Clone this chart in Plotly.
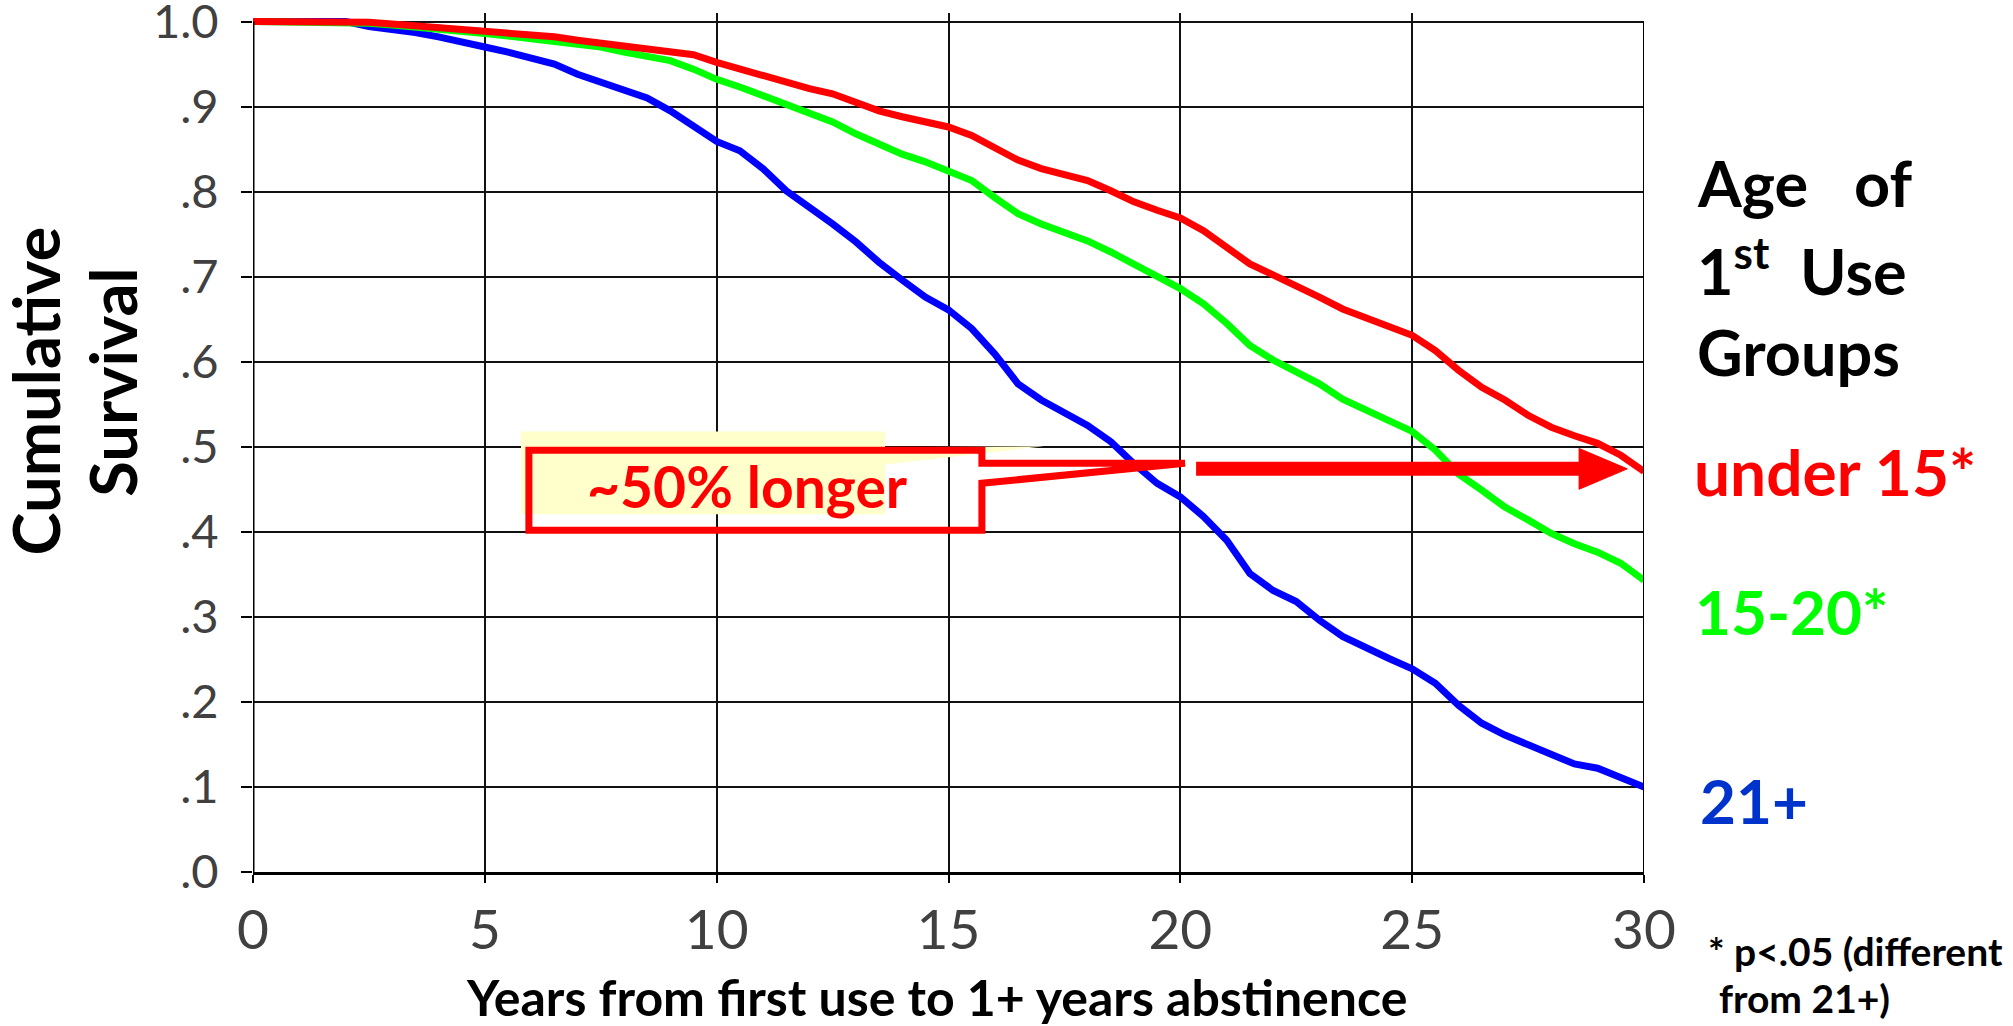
import plotly.graph_objects as go

# Follow-up time (years since first use), half-year grid
years = [i / 2 for i in range(61)]

# Cumulative survival (proportion not yet reaching 1+ years abstinence)
surv_under15 = [
    1.000, 1.000, 1.000, 1.000, 1.000, 0.999, 0.997, 0.995, 0.994, 0.992,
    0.990, 0.988, 0.985, 0.982, 0.978, 0.975, 0.972, 0.969, 0.965, 0.961,
    0.952, 0.944, 0.937, 0.929, 0.921, 0.915, 0.905, 0.895, 0.888, 0.881,
    0.876, 0.866, 0.852, 0.837, 0.827, 0.821, 0.813, 0.801, 0.788, 0.778,
    0.769, 0.754, 0.735, 0.715, 0.702, 0.690, 0.676, 0.662, 0.652, 0.641,
    0.631, 0.613, 0.590, 0.570, 0.555, 0.537, 0.523, 0.513, 0.504, 0.490,
    0.471,
]
surv_15_20 = [
    1.000, 1.000, 1.000, 1.000, 1.000, 0.998, 0.996, 0.994, 0.991, 0.989,
    0.986, 0.983, 0.980, 0.977, 0.974, 0.970, 0.964, 0.959, 0.954, 0.944,
    0.932, 0.923, 0.913, 0.901, 0.891, 0.882, 0.868, 0.856, 0.844, 0.835,
    0.825, 0.813, 0.793, 0.774, 0.762, 0.752, 0.742, 0.729, 0.715, 0.699,
    0.686, 0.668, 0.645, 0.619, 0.602, 0.588, 0.574, 0.556, 0.543, 0.529,
    0.518, 0.496, 0.468, 0.449, 0.429, 0.414, 0.398, 0.386, 0.376, 0.363,
    0.343,
]
surv_21plus = [
    1.000, 1.000, 1.000, 1.000, 1.000, 0.994, 0.991, 0.987, 0.982, 0.975,
    0.970, 0.964, 0.958, 0.950, 0.938, 0.929, 0.921, 0.910, 0.895, 0.876,
    0.859, 0.848, 0.827, 0.801, 0.782, 0.762, 0.741, 0.717, 0.696, 0.676,
    0.661, 0.639, 0.609, 0.574, 0.555, 0.541, 0.525, 0.506, 0.480, 0.457,
    0.441, 0.418, 0.390, 0.351, 0.331, 0.318, 0.296, 0.277, 0.263, 0.251,
    0.239, 0.222, 0.196, 0.175, 0.161, 0.149, 0.137, 0.127, 0.122, 0.112,
    0.100,
]

group_names = ["21+", "15-20*", "under 15*"]
group_colors = ["#0000FF", "#00FF00", "#FF0000"]
label_colors = ["#0033CC", "#00FF00", "#FF0000"]

x_ticks = [0, 5, 10, 15, 20, 25, 30]
y_ticks = [0.0, 0.1, 0.2, 0.3, 0.4, 0.5, 0.6, 0.7, 0.8, 0.9, 1.0]
y_tick_text = [".0", ".1", ".2", ".3", ".4", ".5", ".6", ".7", ".8", ".9", "1.0"]

FONT = "Lato"
GRAY = "#404040"

fig = go.Figure()
for name, ys, col in zip(group_names, [surv_21plus, surv_15_20, surv_under15], group_colors):
    fig.add_trace(go.Scatter(x=years, y=ys, mode="lines", name=name,
                             line=dict(color=col, width=7), hoverinfo="skip"))

fig.update_layout(
    width=2013, height=1026,
    margin=dict(l=253, r=369, t=13, b=154, autoexpand=False),
    paper_bgcolor="white", plot_bgcolor="white",
    showlegend=False,
    font=dict(family=FONT),
    xaxis=dict(range=[0, 30], tickvals=x_ticks, ticks="outside", ticklen=8,
               tickwidth=1.5, tickcolor="black", showgrid=True, gridcolor="#111",
               gridwidth=1.5, zeroline=False, showline=True, linecolor="black",
               linewidth=3, automargin=False,
               tickfont=dict(family=FONT, size=55, color=GRAY)),
    yaxis=dict(range=[0, 1.01], tickvals=y_ticks, ticktext=y_tick_text,
               ticks="outside", ticklen=11, tickwidth=2, tickcolor="black",
               showgrid=True, gridcolor="#111", gridwidth=1.5, zeroline=False,
               showline=False, automargin=False, ticklabeloverflow="allow",
               ticklabelstandoff=13,
               tickfont=dict(family=FONT, size=47, color=GRAY)),
)

# Left axis and right frame edge, stopping at 1.0
fig.add_shape(type="line", xref="x", yref="y", x0=0, x1=0, y0=0, y1=1.0,
              line=dict(color="black", width=3))
fig.add_shape(type="line", xref="x", yref="y", x0=30, x1=30, y0=0, y1=1.0,
              line=dict(color="black", width=2))

# Highlight behind the callout text
fig.add_shape(type="rect", xref="x", yref="y", x0=5.78, x1=13.63, y0=0.4207, y1=0.518,
              fillcolor="#FFFFCC", line=dict(width=0), layer="above")
fig.add_shape(type="path", xref="x", yref="y",
              path="M 13.63 0.4995 L 17.06 0.5005 L 13.63 0.479 Z",
              fillcolor="#FFFFCC", line=dict(width=0), layer="above")

# Callout box with pointer
fig.add_shape(type="path", xref="x", yref="y",
              path=("M 5.95 0.4959 L 15.72 0.4959 L 15.72 0.4806 L 20.10 0.4806 "
                    "L 15.72 0.4571 L 15.72 0.4019 L 5.95 0.4019 Z"),
              line=dict(color="#FF0000", width=7), fillcolor="rgba(0,0,0,0)",
              layer="above")

# Horizontal arrow at the 50% survival level
fig.add_shape(type="line", xref="x", yref="y", x0=20.34, x1=28.7, y0=0.474, y1=0.474,
              line=dict(color="#FF0000", width=14), layer="above")
fig.add_shape(type="path", xref="x", yref="y",
              path="M 28.6 0.498 L 29.64 0.474 L 28.6 0.450 Z",
              fillcolor="#FF0000", line=dict(color="#FF0000", width=1), layer="above")

fig.add_annotation(text="~50% longer", xref="x", yref="y", x=10.66, y=0.4536,
                   showarrow=False, xanchor="center", yanchor="middle",
                   font=dict(family=FONT, size=57, color="#FF0000", weight="bold"))

# Axis titles
TITLE_FONT = dict(family=FONT, size=65, color="black", weight="bold")
fig.add_annotation(text="Cumulative", xref="paper", yref="paper",
                   x=-0.1570, y=0.560, textangle=-90, showarrow=False,
                   xanchor="center", yanchor="middle", font=TITLE_FONT)
fig.add_annotation(text="Survival", xref="paper", yref="paper",
                   x=-0.1015, y=0.5704, textangle=-90, showarrow=False,
                   xanchor="center", yanchor="middle", font=TITLE_FONT)
fig.add_annotation(text="Years from first use to 1+ years abstinence",
                   xref="paper", yref="paper", x=0.4917, y=-0.146, showarrow=False,
                   xanchor="center", yanchor="middle",
                   font=dict(family=FONT, size=50, color="black", weight="bold"))

# Group legend at the right
NB = "\u00a0"
legend_head = [("Age" + NB * 3 + "of", 0.8027),
               ("1<sup>st</sup>" + NB * 2 + "Use", 0.7049),
               ("Groups", 0.6065)]
for txt, yy in legend_head:
    fig.add_annotation(text=txt, xref="paper", yref="paper", x=1.037, y=yy,
                       showarrow=False, xanchor="left", yanchor="middle",
                       font=dict(family=FONT, size=63, color="black", weight="bold"))

label_pos = {"under 15*": (1.0345, 0.4668, 64), "15-20*": (1.0352, 0.3038, 62),
             "21+": (1.0388, 0.0838, 62)}
for name, col in zip(group_names, label_colors):
    lx, ly, fs = label_pos[name]
    fig.add_annotation(text=name, xref="paper", yref="paper", x=lx, y=ly,
                       showarrow=False, xanchor="left", yanchor="middle",
                       font=dict(family=FONT, size=fs, color=col, weight="bold"))

NOTE_FONT = dict(family=FONT, size=39, color="black", weight="bold")
fig.add_annotation(text="* p<.05 (different", xref="paper", yref="paper",
                   x=1.0445, y=-0.092, showarrow=False, xanchor="left", yanchor="middle",
                   font=NOTE_FONT)
fig.add_annotation(text="from 21+)", xref="paper", yref="paper",
                   x=1.0525, y=-0.1467, showarrow=False, xanchor="left", yanchor="middle",
                   font=NOTE_FONT)

fig.write_html("out.html")
